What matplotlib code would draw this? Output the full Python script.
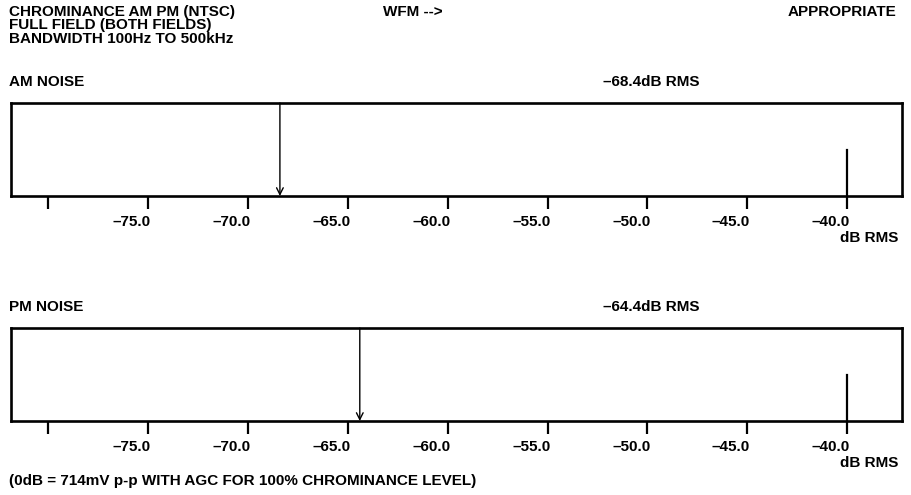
import matplotlib
matplotlib.use("Agg")
import matplotlib.pyplot as plt
import matplotlib.transforms as mtransforms

plt.rcParams['font.family'] = ['Liberation Sans', 'DejaVu Sans']
plt.rcParams['font.weight'] = 'bold'

# data
tick_values = [-80, -75, -70, -65, -60, -55, -50, -45, -40]
tick_labels = ['', '\u201375.0', '\u201370.0', '\u201365.0', '\u201360.0',
               '\u201355.0', '\u201350.0', '\u201345.0', '\u201340.0']
panel_names = ['AM NOISE', 'PM NOISE']
noise_values = [-68.4, -64.4]
limit_value = -40.0
x_min, x_max = -81.85, -37.25

W, H = 911, 495
fig = plt.figure(figsize=(W / 100, H / 100), dpi=100)

FS = 11


def ftext(x, y, s, ha='left'):
    # place text by pixel coordinates of the reference
    fig.text(x / W, 1 - y / H, s, ha=ha, va='center', fontsize=FS, fontweight='bold')


ftext(9, 12, 'CHROMINANCE AM PM (NTSC)')
ftext(9, 25.5, 'FULL FIELD (BOTH FIELDS)')
ftext(9, 39, 'BANDWIDTH 100Hz TO 500kHz')
ftext(383, 12, 'WFM -->')
ftext(896, 12, 'APPROPRIATE', ha='right')

panel_tops = [103, 328]
box_h = 93
shift = mtransforms.ScaledTranslation(3 / 100, 0, fig.dpi_scale_trans)
for name, val, top in zip(panel_names, noise_values, panel_tops):
    ax = fig.add_axes([11.3 / W, 1 - (top + box_h) / H, (902 - 11.3) / W, box_h / H])
    ax.set_xlim(x_min, x_max)
    ax.set_ylim(0, 1)
    for sp in ax.spines.values():
        sp.set_linewidth(1.9)
    ax.set_yticks([])
    ax.set_xticks(tick_values)
    ax.set_xticklabels(tick_labels, ha='right', fontsize=FS, fontweight='bold')
    ax.tick_params(axis='x', direction='out', length=9.5, width=1.6, pad=4)
    for lab in ax.get_xticklabels():
        lab.set_transform(lab.get_transform() + shift)
    # limit marker inside the box
    ax.plot([limit_value, limit_value], [0, 0.5], color='black', lw=1.6)
    # measured value arrow
    ax.annotate('', xy=(val, 0), xytext=(val, 1),
                arrowprops=dict(arrowstyle='->', color='black', lw=1.0,
                                shrinkA=0, shrinkB=0, mutation_scale=12))
    ftext(9, top - 21, name)
    ftext(603, top - 21, '\u2013%.1fdB RMS' % abs(val))
    ftext(898, top + box_h + 42, 'dB RMS', ha='right')

ftext(9, 481, '(0dB = 714mV p-p WITH AGC FOR 100% CHROMINANCE LEVEL)')

fig.savefig('out.png', dpi=100)
